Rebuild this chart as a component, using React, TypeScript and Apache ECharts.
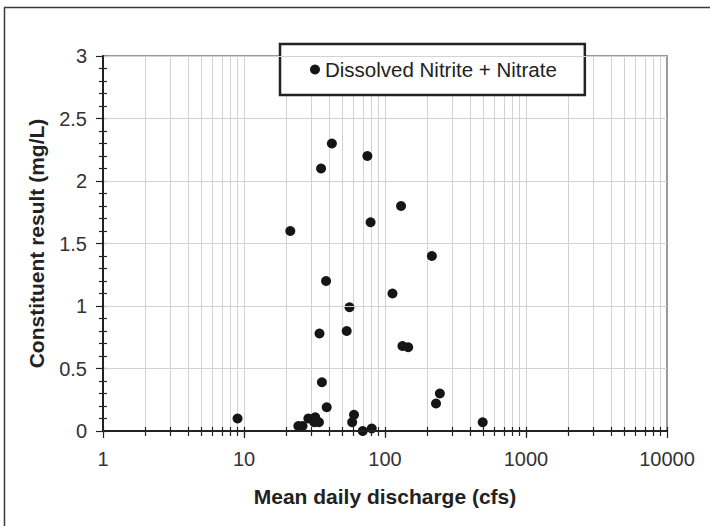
import React, { useEffect, useRef } from "react";
import * as echarts from "echarts";

const seriesName = "Dissolved Nitrite + Nitrate";
const discharge = [9, 21.3, 24.3, 26, 28.6, 32, 31.5, 34, 34.3, 35.2, 35.7, 38.2, 38.6, 42, 53.5, 56, 58.5, 60.3, 69.5, 75, 79, 80.5, 113, 130, 133, 146, 215, 230, 245, 493];
const result = [0.1, 1.6, 0.04, 0.04, 0.1, 0.11, 0.07, 0.07, 0.78, 2.1, 0.39, 1.2, 0.19, 2.3, 0.8, 0.99, 0.07, 0.13, 0.0, 2.2, 1.67, 0.02, 1.1, 1.8, 0.68, 0.67, 1.4, 0.22, 0.3, 0.07];
const xDecades = [1, 10, 100, 1000, 10000];
const minorSteps = [2, 3, 4, 5, 6, 7, 8, 9];
const gridValues: number[] = [];
xDecades.slice(0, 4).forEach((d, i) => {
  if (i > 0) gridValues.push(d);
  minorSteps.forEach((m) => gridValues.push(d * m));
});
const allTickValues = [1, ...gridValues, 10000];

const FONT = "'Liberation Sans', Arial, sans-serif";

export default function App() {
  const ref = useRef<HTMLDivElement>(null);
  useEffect(() => {
    if (!ref.current) return;
    const chart = echarts.init(ref.current, null, { renderer: "svg" });
    const data = discharge.map((x, i) => [x, result[i]]);
    chart.setOption({
      animation: false,
      backgroundColor: "#fff",
      textStyle: { fontFamily: FONT },
      graphic: [
        {
          type: "polyline",
          shape: { points: [[4.5, 540], [4.5, 7.5], [730, 7.5]] },
          style: { fill: "none", stroke: "#3a3a3a", lineWidth: 1.5 },
          z: 0,
        },
      ],
      grid: {
        left: 103,
        top: 56,
        right: 43,
        bottom: 95,
        show: true,
        borderColor: "#9a9a9a",
        borderWidth: 2,
        backgroundColor: "#fff",
      },
      legend: {
        data: [seriesName],
        left: 280,
        top: 44,
        icon: "circle",
        itemWidth: 10,
        itemHeight: 10,
        padding: [15, 28, 15, 30],
        borderColor: "#222",
        borderWidth: 2.5,
        backgroundColor: "#fff",
        textStyle: { fontSize: 20.5, color: "#222", fontFamily: FONT },
      },
      xAxis: [
        {
          type: "log",
          logBase: 10,
          min: 1,
          max: 10000,
          position: "bottom",
          z: 5,
          name: "Mean daily discharge (cfs)",
          nameLocation: "middle",
          nameGap: 55,
          nameTextStyle: { fontSize: 21, fontWeight: "bold", color: "#222", fontFamily: FONT },
          axisLine: { show: true, lineStyle: { color: "#222", width: 2 } },
          axisTick: { show: true, inside: false, length: 7, lineStyle: { color: "#222", width: 1.2 } },
          axisLabel: { fontSize: 20, color: "#333", margin: 18, fontFamily: FONT, formatter: (v: number) => String(v) },
          splitLine: { show: false },
        },
        {
          type: "log",
          logBase: 10,
          min: 1,
          max: 10000,
          position: "bottom",
          z: 1,
          axisLine: { show: false },
          axisLabel: { show: false },
          axisTick: { show: true, customValues: gridValues, inside: false, length: 5, lineStyle: { color: "#222", width: 1.2 } },
          splitLine: { show: true, lineStyle: { color: "#d2d2d2", width: 1 } },
        },
        {
          type: "log",
          logBase: 10,
          min: 1,
          max: 10000,
          position: "bottom",
          z: 1,
          axisLine: { show: false },
          axisLabel: { show: false },
          axisTick: { show: true, customValues: allTickValues, inside: true, length: 4, lineStyle: { color: "#222", width: 1.2 } },
          splitLine: { show: false },
        },
      ],
      yAxis: [
        {
          type: "value",
          min: 0,
          max: 3,
          interval: 0.5,
          position: "left",
          z: 5,
          name: "Constituent result (mg/L)",
          nameLocation: "middle",
          nameGap: 56,
          nameTextStyle: { fontSize: 21, fontWeight: "bold", color: "#222", fontFamily: FONT },
          axisLine: { show: true, lineStyle: { color: "#222", width: 2 } },
          axisTick: { show: true, inside: false, length: 7, lineStyle: { color: "#222", width: 1.2 } },
          minorTick: { show: true, splitNumber: 5, length: 4, lineStyle: { color: "#222", width: 1.2 } },
          axisLabel: { fontSize: 20, color: "#333", margin: 16, fontFamily: FONT },
          splitLine: { show: true, lineStyle: { color: "#d2d2d2", width: 1.2 } },
        },
        {
          type: "value",
          min: 0,
          max: 3,
          interval: 0.5,
          position: "left",
          z: 1,
          axisLine: { show: false },
          axisLabel: { show: false },
          axisTick: { show: true, inside: true, length: 4, lineStyle: { color: "#222", width: 1.2 } },
          minorTick: { show: true, splitNumber: 5, length: 4, lineStyle: { color: "#222", width: 1.2 } },
          splitLine: { show: false },
        },
      ],
      series: [
        {
          name: seriesName,
          type: "scatter",
          xAxisIndex: 0,
          yAxisIndex: 0,
          symbol: "circle",
          symbolSize: 10,
          itemStyle: { color: "#151515", opacity: 1 },
          data,
          z: 3,
        },
      ],
    });
    return () => chart.dispose();
  }, []);
  return (
    <div
      ref={ref}
      style={{ position: "fixed", left: 0, top: 0, width: 710, height: 526 }}
    />
  );
}
